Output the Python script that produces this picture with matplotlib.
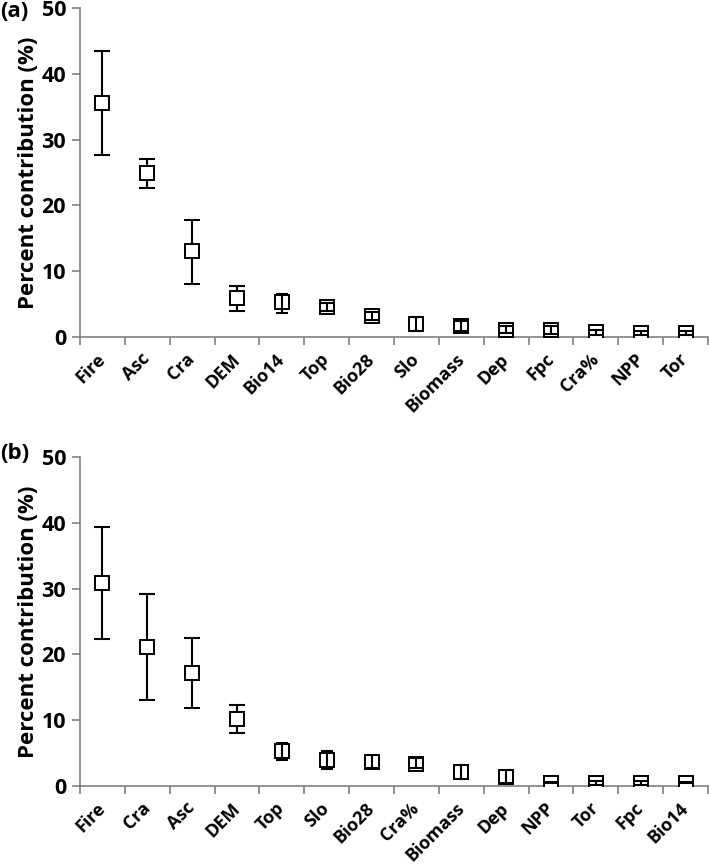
import matplotlib
matplotlib.use("Agg")
import matplotlib.pyplot as plt
import numpy as np

plt.rcParams['font.family'] = ['Open Sans', 'DejaVu Sans']
plt.rcParams['font.weight'] = 'bold'

# Panel (a)
cats_a = ["Fire", "Asc", "Cra", "DEM", "Bio14", "Top", "Bio28", "Slo", "Biomass", "Dep", "Fpc", "Cra%", "NPP", "Tor"]
mean_a = [35.6, 25.0, 13.0, 5.9, 5.3, 4.5, 3.2, 1.9, 1.7, 1.1, 1.1, 0.7, 0.6, 0.6]
low_a  = [27.6, 22.7, 8.1, 3.9, 3.7, 3.9, 2.6, 0.85, 0.9, 0.6, 0.5, 0.3, 0.3, 0.25]
high_a = [43.4, 27.1, 17.8, 7.8, 6.6, 5.2, 3.8, 3.0, 2.5, 1.6, 1.7, 1.1, 0.9, 0.95]

# Panel (b)
cats_b = ["Fire", "Cra", "Asc", "DEM", "Top", "Slo", "Bio28", "Cra%", "Biomass", "Dep", "NPP", "Tor", "Fpc", "Bio14"]
mean_b = [30.85, 21.1, 17.2, 10.2, 5.3, 4.0, 3.7, 3.4, 2.2, 1.4, 0.5, 0.5, 0.5, 0.5]
low_b  = [22.4, 13.1, 11.8, 8.1, 4.0, 2.6, 2.7, 2.7, 1.0, 0.4, 0.4, 0.2, 0.2, 0.4]
high_b = [39.3, 29.2, 22.5, 12.3, 6.5, 5.3, 4.7, 4.2, 3.2, 2.4, 0.6, 0.8, 0.8, 0.6]

yticks = [0, 10, 20, 30, 40, 50]

fig = plt.figure(figsize=(7.09, 8.67), dpi=100)
ax_a = fig.add_axes([80/709, 1-337/867, 628/709, 329/867])
ax_b = fig.add_axes([80/709, 1-786/867, 628/709, 329/867])

def draw(ax, cats, mean, low, high):
    x = np.arange(len(cats))
    mean = np.array(mean); low = np.array(low); high = np.array(high)
    yerr = np.vstack([mean - low, high - mean])
    half = (high - low) / 2
    big = half > 1.5
    small = ~big
    if big.any():
        ax.errorbar(x[big], mean[big], yerr=yerr[:, big], fmt='none', ecolor='black',
                    elinewidth=1.5, capsize=5.5, capthick=1.5, zorder=2)
    ax.plot(x, mean, linestyle='none', marker='s', markersize=10.5,
            markerfacecolor='white', markeredgecolor='black', markeredgewidth=1.4, zorder=3)
    if small.any():
        ax.errorbar(x[small], mean[small], yerr=yerr[:, small], fmt='none', ecolor='black',
                    elinewidth=1.5, capsize=4.5, capthick=1.5, zorder=4)
    ax.set_xlim(-0.5, len(cats) - 0.5)
    ax.set_ylim(0, 50)
    ax.set_yticks(yticks)
    ax.set_yticklabels([str(t) for t in yticks], fontsize=15.5, fontweight='bold')
    ax.set_xticks(np.arange(len(cats) + 1) - 0.5)
    ax.set_xticklabels([])
    ax.set_xticks(x, minor=True)
    ax.set_xticklabels(cats, minor=True, rotation=45, ha='right', va='center',
                       rotation_mode='anchor', fontsize=13, fontweight='bold')
    ax.tick_params(axis='x', which='minor', length=0, pad=14)
    ax.tick_params(axis='x', which='major', length=6, width=1.2, color='#808080', direction='out')
    ax.tick_params(axis='y', length=6, width=1.2, color='#808080', direction='out', pad=4)
    for s in ['top', 'right']:
        ax.spines[s].set_visible(False)
    for s in ['left', 'bottom']:
        ax.spines[s].set_color('#808080')
        ax.spines[s].set_linewidth(1.2)
    ax.set_ylabel("Percent contribution (%)", fontsize=16, fontweight='bold', labelpad=2)

draw(ax_a, cats_a, mean_a, low_a, high_a)
draw(ax_b, cats_b, mean_b, low_b, high_b)
fig.text(0.0, 1 - 1/867, "(a)", fontsize=16, fontweight='bold', ha='left', va='top')
fig.text(0.0, 1 - 443/867, "(b)", fontsize=16, fontweight='bold', ha='left', va='top')

fig.savefig("out.png", dpi=100)
